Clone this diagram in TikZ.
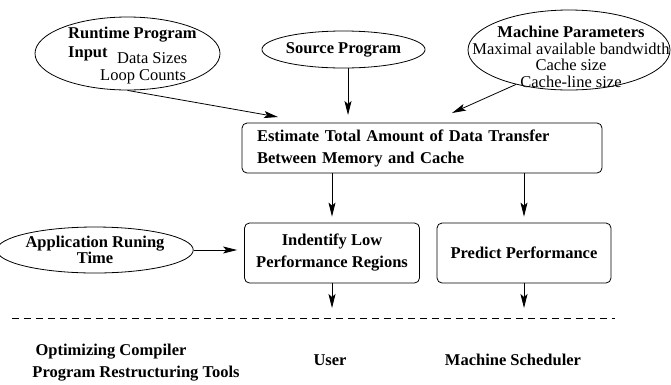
\documentclass[tikz,border=0pt]{standalone}
\usepackage{fontspec}
\setmainfont{Liberation Serif}
\usetikzlibrary{arrows.meta,shapes.geometric}

\begin{document}
\begin{tikzpicture}[x=1pt,y=-1pt,
  every node/.style={inner sep=0pt,font=\fontsize{16.5}{17}\selectfont},
  oval/.style={draw,ellipse,line width=0.8pt},
  stage/.style={draw,rounded corners=5pt,line width=0.8pt,align=center,font=\bfseries\fontsize{16.5}{22}\selectfont},
  flow/.style={-{Stealth[length=14pt,width=7pt,inset=3pt]},line width=0.8pt},
  sepline/.style={line width=0.6pt,dash pattern=on 7pt off 5pt}]
  \useasboundingbox (0,0) rectangle (671,384);
  \node[oval,minimum width=185pt,minimum height=73pt] (runtime) at (127.5,53.5) {};
  \node[anchor=west,font=\bfseries\fontsize{16.5}{17}\selectfont] (rtitle) at (68,35) {Runtime Program};
  \node[anchor=west,font=\bfseries\fontsize{16.5}{17}\selectfont] (rinput) at (68,54) {Input};
  \node[anchor=west] (rsizes) at (117,58) {Data Sizes};
  \node[anchor=west] (rloops) at (100,77) {Loop Counts};
  \node[oval,minimum width=137pt,minimum height=37pt,font=\bfseries\fontsize{16.5}{17}\selectfont] (source) at (343.5,49.5) {Source Program};
  \node[oval,minimum width=202pt,minimum height=80pt] (machine) at (569,50) {};
  \node[align=center,font=\fontsize{16.5}{16.7}\selectfont] (mtext) at (571,57) {\textbf{Machine Parameters}\\Maximal available bandwidth\\Cache size\\Cache-line size};
  \node[stage,minimum width=360pt,minimum height=50pt,text width=330pt,align=left] (estimate) at (422,148) {Estimate Total Amount of Data Transfer\\Between Memory and Cache};
  \node[stage,minimum width=175pt,minimum height=60pt] (ident) at (332,253) {Indentify Low\\Performance Regions};
  \node[stage,minimum width=174pt,minimum height=60pt] (predict) at (524,253) {Predict Performance};
  \node[oval,minimum width=157pt,minimum height=46pt,align=center,font=\bfseries\fontsize{16.5}{16}\selectfont] (apptime) at (95,250) {Application Runing\\Time};
  \node[font=\bfseries\fontsize{16.5}{17}\selectfont] (compiler) at (111,352) {Optimizing Compiler};
  \node[font=\bfseries\fontsize{16.5}{17}\selectfont] (restruct) at (136,374) {Program Restructuring Tools};
  \node[font=\bfseries\fontsize{16.5}{17}\selectfont] (user) at (330,360) {User};
  \node[font=\bfseries\fontsize{16.5}{17}\selectfont] (sched) at (513,360) {Machine Scheduler};
  \coordinate (estIn1) at (278,117);
  \coordinate (estIn2) at (348,115);
  \coordinate (estIn3) at (452,113);
  \coordinate (outTip) at (0,308);
  \coordinate (dashL) at (12,318);
  \coordinate (dashR) at (615,318);
  \draw[flow] (runtime.south) -- (estIn1);
  \draw[flow] (source.south -| estIn2) -- (estIn2);
  \draw[flow] (machine.213) -- (estIn3);
  \draw[flow,shorten >=6pt] (estimate.south -| ident.north) -- (ident.north);
  \draw[flow,shorten >=6pt] (estimate.south -| predict.north) -- (predict.north);
  \draw[flow,shorten >=7pt] (apptime.east) -- (apptime.east -| ident.west);
  \draw[flow] (ident.south) -- (ident.south |- outTip);
  \draw[flow] (predict.south) -- (predict.south |- outTip);
  \draw[sepline] (dashL) -- (dashR);
\end{tikzpicture}
\end{document}
